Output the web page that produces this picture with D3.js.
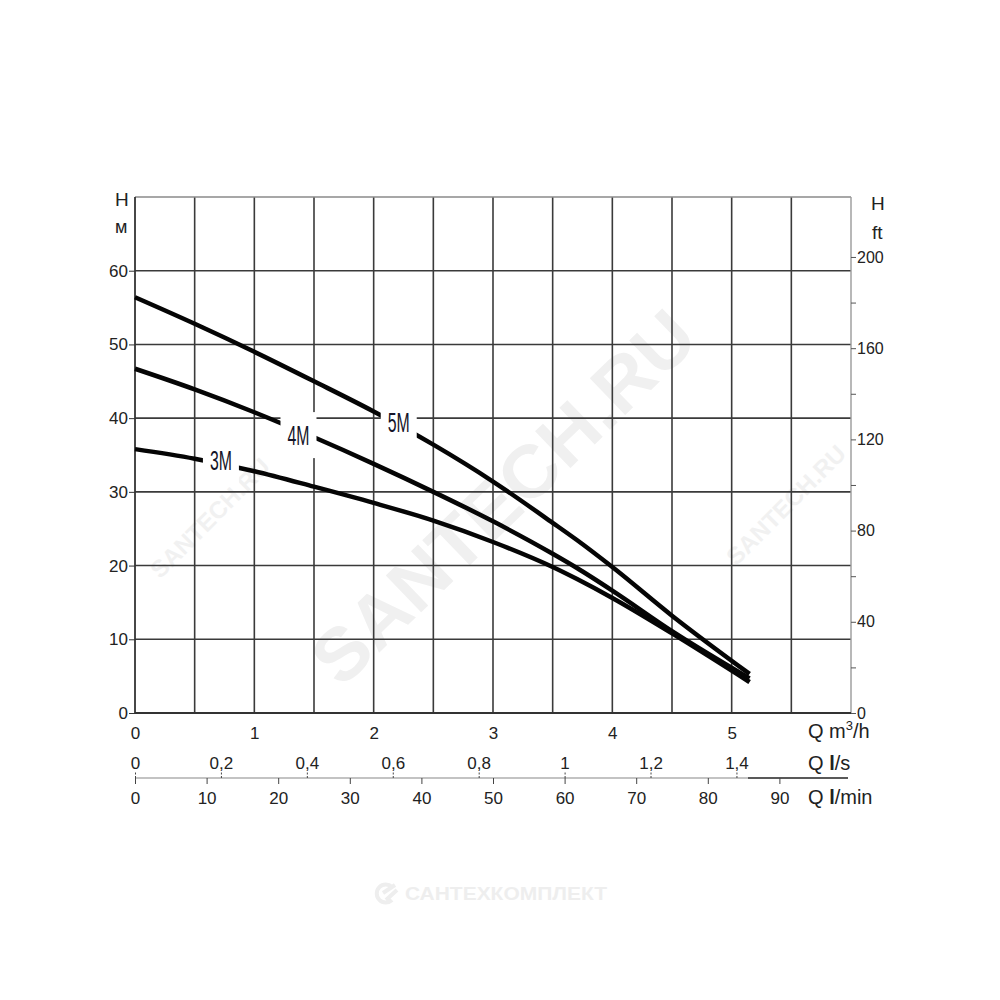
<!DOCTYPE html>
<html>
<head>
<meta charset="utf-8">
<script src="https://cdn.jsdelivr.net/npm/d3@7"></script>
<style>
  body { margin: 0; background: #fff; }
  text { font-family: "Liberation Sans", Arial, sans-serif; }
</style>
</head>
<body>
<svg id="chart" width="1000" height="1000"></svg>
<script>
// flow points, m3/h
var flow = [0, 0.5, 1, 1.5, 2, 2.5, 3, 3.5, 3.7, 4, 4.5, 5.15]
// head, m
var head5M = [56.4, 52.8, 49.0, 45.0, 40.9, 36.4, 31.4, 25.8, 23.5, 19.8, 13.2, 5.3]
var head4M = [46.7, 43.9, 40.8, 37.4, 33.8, 30.0, 26.0, 21.6, 19.7, 16.6, 11.1, 4.7]
var head3M = [35.8, 34.5, 32.8, 30.7, 28.5, 26.1, 23.2, 19.8, 18.2, 15.6, 10.8, 4.2]

var models = ['3M', '4M', '5M']
var labelQ = [0.72, 1.37, 2.21]
var labelH = [34.3, 37.7, 39.4]

var hTicks = [0, 10, 20, 30, 40, 50, 60]
var ftTicks = [0, 20, 40, 60, 80, 100, 120, 140, 160, 180, 200]
var ftLabels = [0, 40, 80, 120, 160, 200]
var m3hTicks = [0, 1, 2, 3, 4, 5]
var lsTicks = [0, 0.2, 0.4, 0.6, 0.8, 1, 1.2, 1.4]
var lminTicks = [0, 10, 20, 30, 40, 50, 60, 70, 80, 90]

var svg = d3.select('#chart')

var plotLeft = 135, plotRight = 851, plotTop = 197, plotBottom = 713

var x = d3.scaleLinear().domain([0, 6]).range([plotLeft, plotRight])
var y = d3.scaleLinear().domain([0, 70]).range([plotBottom, plotTop])
var yFt = d3.scaleLinear().domain([0, 226.3]).range([plotBottom, plotTop])
var xLs = d3.scaleLinear().domain([0, 6 / 3.6]).range([plotLeft, plotRight])
var xLmin = d3.scaleLinear().domain([0, 6 / 0.06]).range([plotLeft, plotRight])

// watermarks
svg.append('text')
    .attr('transform', 'translate(503,497) rotate(-44)')
    .attr('text-anchor', 'middle').attr('dy', '0.35em')
    .attr('font-size', 74).attr('font-weight', 'bold')
    .attr('fill', '#f0f0f0')
    .attr('textLength', 500).attr('lengthAdjust', 'spacingAndGlyphs')
    .text('SANTECH.RU')
;[[210, 518], [786, 505]].forEach(function (p) {
    svg.append('text')
        .attr('transform', 'translate(' + p[0] + ',' + p[1] + ') rotate(-45)')
        .attr('text-anchor', 'middle').attr('dy', '0.35em')
        .attr('font-size', 24).attr('font-weight', 'bold')
        .attr('fill', '#f1f1f1')
        .text('SANTECH.RU')
})
svg.append('text')
    .attr('x', 405).attr('y', 900)
    .attr('font-size', 18).attr('font-weight', 'bold')
    .attr('fill', '#eeeeee')
    .attr('textLength', 202).attr('lengthAdjust', 'spacingAndGlyphs')
    .text('САНТЕХКОМПЛЕКТ')
svg.append('path')
    .attr('d', 'M392,887 A9,9 0 1,0 392,900 M383,893 L395,885 M386,900 L397,890')
    .attr('fill', 'none').attr('stroke', '#eeeeee').attr('stroke-width', 4)

// grid
svg.append('g').selectAll('line')
    .data(d3.range(0.5, 6, 0.5))
    .enter().append('line')
    .attr('x1', d => x(d)).attr('x2', d => x(d))
    .attr('y1', y(0)).attr('y2', y(70))
    .attr('stroke', '#3a3a3a').attr('stroke-width', 1.6)

svg.append('g').selectAll('line')
    .data(hTicks.slice(1))
    .enter().append('line')
    .attr('x1', x(0)).attr('x2', x(6))
    .attr('y1', d => y(d)).attr('y2', d => y(d))
    .attr('stroke', '#3a3a3a').attr('stroke-width', 1.6)

// frame
svg.append('line').attr('x1', x(0)).attr('x2', x(6)).attr('y1', y(70)).attr('y2', y(70))
    .attr('stroke', '#8a8a8a').attr('stroke-width', 1.4)
svg.append('line').attr('x1', x(6)).attr('x2', x(6)).attr('y1', y(70)).attr('y2', y(0))
    .attr('stroke', '#9a9a9a').attr('stroke-width', 1.4)
svg.append('line').attr('x1', x(0)).attr('x2', x(0)).attr('y1', y(70)).attr('y2', y(0))
    .attr('stroke', '#333').attr('stroke-width', 1.8)
svg.append('line').attr('x1', x(0)).attr('x2', x(6)).attr('y1', y(0)).attr('y2', y(0))
    .attr('stroke', '#333').attr('stroke-width', 1.8)

function styleText(g, size) {
    g.selectAll('text').attr('font-size', size).attr('fill', '#222')
        .attr('font-family', '"Liberation Sans", Arial, sans-serif')
}

// left axis, m
var gLeft = svg.append('g')
    .attr('transform', 'translate(' + plotLeft + ',0)')
    .call(d3.axisLeft(y).tickValues(hTicks).tickSize(6).tickPadding(1))
gLeft.select('.domain').remove()
gLeft.selectAll('line').attr('stroke', '#333')
styleText(gLeft, 17)

// right axis, ft
var gRight = svg.append('g')
    .attr('transform', 'translate(' + plotRight + ',0)')
    .call(d3.axisRight(yFt).tickValues(ftTicks).tickSize(5).tickPadding(1)
        .tickFormat(d => ftLabels.indexOf(d) >= 0 ? d : ''))
gRight.select('.domain').remove()
gRight.selectAll('line').attr('stroke', '#555')
styleText(gRight, 16)

// bottom axis, m3/h
var gM3 = svg.append('g')
    .attr('transform', 'translate(0,' + plotBottom + ')')
    .call(d3.axisBottom(x).tickValues(m3hTicks).tickSize(0).tickPadding(14)
        .tickFormat(d3.format('d')))
gM3.select('.domain').remove()
styleText(gM3, 17)

// l/s and l/min scales share one line
var lineY = 778
svg.append('line').attr('x1', xLs(0)).attr('x2', 748).attr('y1', lineY).attr('y2', lineY)
    .attr('stroke', '#888').attr('stroke-width', 1.2)
svg.append('line').attr('x1', 748).attr('x2', 848).attr('y1', lineY).attr('y2', lineY)
    .attr('stroke', '#222').attr('stroke-width', 1.6)

var gLs = svg.append('g')
    .attr('transform', 'translate(0,' + lineY + ')')
    .call(d3.axisTop(xLs).tickValues(lsTicks).tickSize(6).tickPadding(3)
        .tickFormat(d => String(d).replace('.', ',')))
gLs.select('.domain').remove()
gLs.selectAll('line').attr('stroke', '#444').attr('stroke-dasharray', '2,1.5')
styleText(gLs, 17)

var gLmin = svg.append('g')
    .attr('transform', 'translate(0,' + lineY + ')')
    .call(d3.axisBottom(xLmin).tickValues(lminTicks).tickSize(6).tickPadding(8))
gLmin.select('.domain').remove()
gLmin.selectAll('line').attr('stroke', '#444')
styleText(gLmin, 17)

// axis titles
svg.append('text').attr('x', 115).attr('y', 206).attr('font-size', 19).attr('fill', '#222').text('H')
svg.append('text').attr('x', 115).attr('y', 233).attr('font-size', 18).attr('fill', '#222').text('м')
svg.append('text').attr('x', 871).attr('y', 210).attr('font-size', 19).attr('fill', '#222').text('H')
svg.append('text').attr('x', 872).attr('y', 239).attr('font-size', 19).attr('fill', '#222').text('ft')

var qm3 = svg.append('text').attr('x', 808).attr('y', 738).attr('font-size', 20).attr('fill', '#222')
qm3.append('tspan').text('Q m')
qm3.append('tspan').attr('font-size', 13).attr('dy', -8).text('3')
qm3.append('tspan').attr('dy', 8).text('/h')

var qls = svg.append('text').attr('x', 808).attr('y', 770).attr('font-size', 20).attr('fill', '#222')
qls.append('tspan').text('Q ')
qls.append('tspan').attr('font-weight', 'bold').text('l')
qls.append('tspan').text('/s')

var qlm = svg.append('text').attr('x', 808).attr('y', 804).attr('font-size', 20).attr('fill', '#222')
qlm.append('tspan').text('Q ')
qlm.append('tspan').attr('font-weight', 'bold').text('l')
qlm.append('tspan').text('/min')

// curves
var curveLine = d3.line()
    .x(d => x(d[0]))
    .y(d => y(d[1]))
    .curve(d3.curveMonotoneX)

var heads = [head3M, head4M, head5M]
heads.forEach(function (h) {
    svg.append('path')
        .datum(flow.map((q, i) => [q, h[i]]))
        .attr('d', curveLine)
        .attr('fill', 'none')
        .attr('stroke', '#050505')
        .attr('stroke-width', 4.5)
})

// curve labels with white box behind
models.forEach(function (m, i) {
    var cx = x(labelQ[i]), cy = y(labelH[i])
    svg.append('rect')
        .attr('x', cx - 18).attr('y', cy - 23)
        .attr('width', 36).attr('height', 46)
        .attr('fill', '#fff')
    svg.append('text')
        .attr('x', cx).attr('y', cy)
        .attr('dy', '0.36em')
        .attr('text-anchor', 'middle')
        .attr('font-family', '"Liberation Sans Narrow", "DejaVu Sans Condensed", sans-serif')
        .attr('font-size', 27)
        .attr('fill', '#141428')
        .attr('textLength', 22).attr('lengthAdjust', 'spacingAndGlyphs')
        .text(m)
})
</script>
</body>
</html>
